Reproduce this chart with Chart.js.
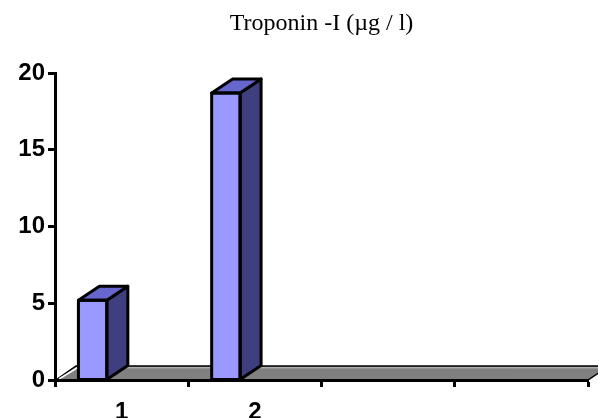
<!DOCTYPE html>
<html><head><meta charset="utf-8">
<script src="https://cdn.jsdelivr.net/npm/chart.js@4"></script>
<style>html,body{margin:0;padding:0;background:#fff;} canvas{display:block;}</style>
</head><body>
<canvas id="c" width="598" height="418"></canvas>
<script>
const categories = ['1', '2', '', ''];
const troponinValues = [5.2, 18.7, null, null];
const spacerValues = [null, null, null, null];
const yTicks = [0, 5, 10, 15, 20];
const titleText = 'Troponin -I (\u00b5g / l)';

const DX = 21, DY = -14;
const FRONT = '#9999FF', SIDE = '#3F3F80', TOP = '#6666CC';

const depthPlugin = {
  id: 'depth3d',
  beforeDraw(chart) {
    const ctx = chart.ctx, a = chart.chartArea;
    const L = a.left, R = a.right, B = a.bottom;
    ctx.save();
    ctx.fillStyle = '#fff';
    ctx.fillRect(0, 0, chart.width, chart.height);
    ctx.beginPath();
    ctx.moveTo(L + 1, B); ctx.lineTo(R, B); ctx.lineTo(R + DX, B + DY); ctx.lineTo(L + DX, B + DY); ctx.closePath();
    ctx.fillStyle = '#808080'; ctx.fill();
    ctx.lineWidth = 1.5; ctx.strokeStyle = '#000'; ctx.stroke();
    ctx.beginPath(); ctx.moveTo(L + DX, B + DY + 1.8); ctx.lineTo(R + DX, B + DY + 1.8);
    ctx.strokeStyle = '#c0c0c0'; ctx.lineWidth = 1; ctx.stroke();
    ctx.beginPath(); ctx.moveTo(L + 4, B - 1); ctx.lineTo(L + DX + 1, B + DY + 2);
    ctx.strokeStyle = '#fff'; ctx.lineWidth = 1.5; ctx.stroke();
    ctx.restore();
  },
  afterDatasetsDraw(chart) {
    const ctx = chart.ctx;
    const meta = chart.getDatasetMeta(0);
    ctx.save();
    ctx.lineWidth = 3; ctx.lineJoin = 'round'; ctx.strokeStyle = '#000';
    meta.data.forEach((bar, i) => {
      if (troponinValues[i] == null) return;
      const p = bar.getProps(['x', 'y', 'base', 'width'], true);
      const l = p.x - p.width / 2, r = p.x + p.width / 2, t = p.y, b = p.base;
      ctx.beginPath();
      ctx.moveTo(r, t); ctx.lineTo(r + DX, t + DY); ctx.lineTo(r + DX, b + DY); ctx.lineTo(r, b); ctx.closePath();
      ctx.fillStyle = SIDE; ctx.fill(); ctx.stroke();
      ctx.beginPath();
      ctx.moveTo(l, t); ctx.lineTo(l + DX, t + DY); ctx.lineTo(r + DX, t + DY); ctx.lineTo(r, t); ctx.closePath();
      ctx.fillStyle = TOP; ctx.fill(); ctx.stroke();
      ctx.strokeRect(l, t, r - l, b - t);
    });
    ctx.restore();
  }
};

new Chart(document.getElementById('c'), {
  type: 'bar',
  data: {
    labels: categories,
    datasets: [
      { data: troponinValues, backgroundColor: FRONT, borderColor: '#000', borderWidth: 1, borderSkipped: false },
      { data: spacerValues, backgroundColor: 'rgba(0,0,0,0)' }
    ]
  },
  options: {
    responsive: false,
    animation: false,
    devicePixelRatio: 1,
    categoryPercentage: 0.8705,
    barPercentage: 0.49,
    layout: { padding: { left: 0, right: 10, top: 0, bottom: 0 } },
    plugins: {
      legend: { display: false },
      tooltip: { enabled: false },
      title: {
        display: true, text: titleText, fullSize: false, color: '#000',
        font: { family: '"Liberation Serif", "Times New Roman", serif', size: 24, weight: 'normal' },
        padding: { top: 9, bottom: 35.2 }
      }
    },
    scales: {
      x: {
        grid: { display: true, drawOnChartArea: false, offset: true, tickLength: 7, tickColor: '#000', tickWidth: 3 },
        border: { display: true, color: '#000', width: 3 },
        ticks: { color: '#000', padding: 11, maxRotation: 0, autoSkip: false,
          font: { family: '"Liberation Sans", Arial, sans-serif', size: 24, weight: 'bold' } },
        afterFit(s) { s.height = 38; }
      },
      y: {
        min: 0, max: 20,
        afterBuildTicks(s) { s.ticks = yTicks.map(v => ({ value: v })); },
        grid: { display: true, drawOnChartArea: false, tickLength: 7, tickColor: '#000', tickWidth: 3 },
        border: { display: true, color: '#000', width: 3 },
        ticks: { color: '#000', padding: 3,
          font: { family: '"Liberation Sans", Arial, sans-serif', size: 24, weight: 'bold' } },
        afterFit(s) { s.width = 55; }
      }
    }
  },
  plugins: [depthPlugin]
});
</script>
</body></html>
